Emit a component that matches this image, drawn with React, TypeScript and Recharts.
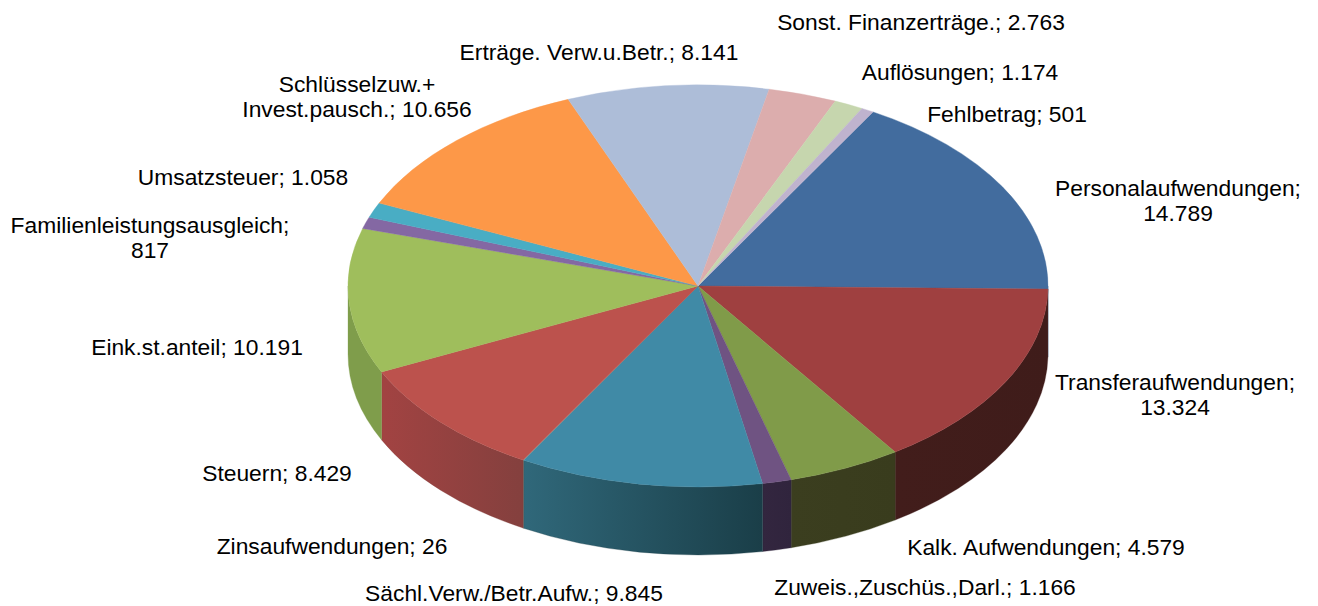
import * as React from 'react';
import { PieChart, Pie } from 'recharts';

const categories = [
  'Personalaufwendungen', 'Transferaufwendungen', 'Kalk. Aufwendungen', 'Zuweis.,Zuschüs.,Darl.',
  'Sächl.Verw./Betr.Aufw.', 'Zinsaufwendungen', 'Steuern', 'Eink.st.anteil',
  'Familienleistungsausgleich', 'Umsatzsteuer', 'Schlüsselzuw.+\nInvest.pausch.', 'Erträge. Verw.u.Betr.',
  'Sonst. Finanzerträge.', 'Auflösungen', 'Fehlbetrag',
];
const values = [14789, 13324, 4579, 1166, 9845, 26, 8429, 10191, 817, 1058, 10656, 8141, 2763, 1174, 501];

const topColors = [
  '#426c9e', '#9f4040', '#809b49', '#6f5382', '#408aa6', '#8a8a80', '#bc524d', '#9fbe5c',
  '#8468a3', '#49adc4', '#fd9848', '#adbdd8', '#dcadad', '#c6d6ae', '#bfb3ce',
];
const wallFrom = [
  '#426c9e', '#421d1b', '#3b3e1f', '#33263f', '#30687a', '#5f5a55', '#a24342', '#7f9d4b',
  '#8468a3', '#49adc4', '#fd9848', '#adbdd8', '#dcadad', '#c6d6ae', '#bfb3ce',
];
const wallTo = [
  '#426c9e', '#3f1c1a', '#393c1d', '#30243d', '#1a3e48', '#5f5a55', '#84403e', '#7f9d4b',
  '#8468a3', '#49adc4', '#fd9848', '#adbdd8', '#dcadad', '#c6d6ae', '#bfb3ce',
];

// label centre x / middle of first line y, same order as categories
const labelX = [1178, 1175, 1046, 925, 514, 332, 277, 197, 150, 243, 357, 599, 921, 960, 1007];
const labelY = [188, 382, 547, 587, 593, 546, 473, 347, 225, 177, 84, 52, 22, 72, 114];
const wrapAfterName = ['Personalaufwendungen', 'Transferaufwendungen', 'Familienleistungsausgleich'];

const WIDTH = 1318;
const HEIGHT = 606;
const CX = 698;
const CY = 286;
const RX = 350;
const RY = 201;
const DEPTH = 68;
const START = 60;

const tableData = categories.map((name, i) => ({ name, value: values[i], fill: topColors[i] }));

const fmt = (v: number) => v.toLocaleString('de-DE');

const ptX = (cx: number, r: number, a: number) => cx + r * Math.cos((a * Math.PI) / 180);
const ptY = (cy: number, r: number, a: number) => cy - (r * RY / RX) * Math.sin((a * Math.PI) / 180);

const TopSlice = (props: any) => {
  const { cx, cy, outerRadius: r, startAngle: s, endAngle: e, index } = props;
  const large = Math.abs(s - e) > 180 ? 1 : 0;
  const d = `M${cx},${cy} L${ptX(cx, r, s)},${ptY(cy, r, s)} A${r},${r * RY / RX} 0 ${large} 1 ${ptX(cx, r, e)},${ptY(cy, r, e)} Z`;
  return <path d={d} fill={topColors[index]} stroke={topColors[index]} strokeWidth={0.4} />;
};

const WallSlice = (props: any) => {
  const { cx, cy, outerRadius: r, startAngle: s, endAngle: e, index } = props;
  // only the front half of the rim shows
  const hi = Math.min(s, 0);
  const lo = Math.max(e, -180);
  if (hi <= lo) return null;
  const ry = r * RY / RX;
  const d = `M${ptX(cx, r, hi)},${ptY(cy, r, hi)} A${r},${ry} 0 0 1 ${ptX(cx, r, lo)},${ptY(cy, r, lo)} L${ptX(cx, r, lo)},${ptY(cy, r, lo) + DEPTH} A${r},${ry} 0 0 0 ${ptX(cx, r, hi)},${ptY(cy, r, hi) + DEPTH} Z`;
  return <path d={d} fill={`url(#wall${index})`} stroke={wallTo[index]} strokeWidth={0.3} />;
};

const SliceLabel = (props: any) => {
  const { index } = props;
  const name = categories[index];
  const val = fmt(values[index]);
  let lines = `${name}; ${val}`.split('\n');
  if (wrapAfterName.includes(name)) lines = [`${name};`, val];
  return (
    <text x={labelX[index]} y={labelY[index] + 7.5} textAnchor="middle" fill="#000" fontFamily="'Liberation Sans', Arial, sans-serif" fontSize={22.8}>
      {lines.map((l, i) => (
        <tspan key={i} x={labelX[index]} dy={i === 0 ? 0 : 25.5}>{l}</tspan>
      ))}
    </text>
  );
};

export default function App() {
  return (
    <div style={{ position: 'absolute', left: 0, top: 0, background: '#fff' }}>
      <PieChart width={WIDTH} height={HEIGHT} margin={{ top: 0, right: 0, bottom: 0, left: 0 }}>
        <defs>
          {categories.map((_, i) => (
            <linearGradient key={i} id={`wall${i}`} x1="0" y1="0" x2="1" y2="0">
              <stop offset="0%" stopColor={wallFrom[i]} />
              <stop offset="100%" stopColor={wallTo[i]} />
            </linearGradient>
          ))}
        </defs>
        <Pie
          data={tableData}
          dataKey="value"
          cx={CX}
          cy={CY}
          outerRadius={RX}
          startAngle={START}
          endAngle={START - 360}
          stroke="none"
          shape={WallSlice}
          isAnimationActive={false}
          legendType="none"
        />
        <Pie
          data={tableData}
          dataKey="value"
          cx={CX}
          cy={CY}
          outerRadius={RX}
          startAngle={START}
          endAngle={START - 360}
          stroke="none"
          shape={TopSlice}
          label={SliceLabel}
          labelLine={false}
          isAnimationActive={false}
        />
      </PieChart>
    </div>
  );
}
